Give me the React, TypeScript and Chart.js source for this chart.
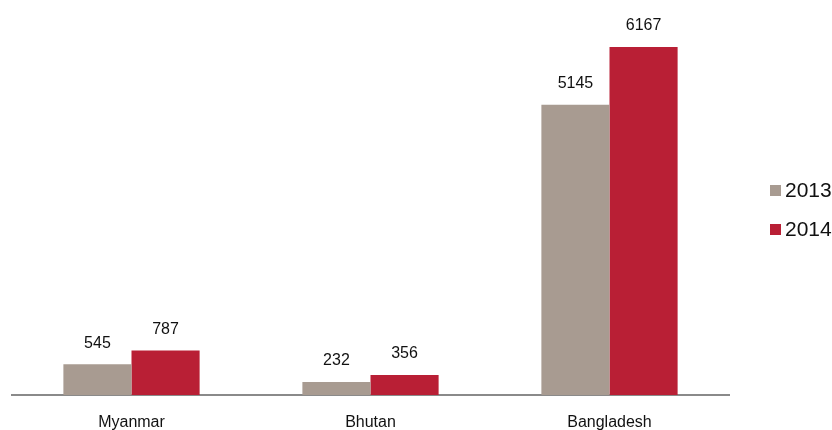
import React, { useEffect, useRef } from "react";
import { Chart, registerables } from "chart.js";

Chart.register(...registerables);

const categories = ["Myanmar", "Bhutan", "Bangladesh"];
const seriesNames = ["2013", "2014"];
const values2013 = [545, 232, 5145];
const values2014 = [787, 356, 6167];
const colors = ["#a89b91", "#b91f35"];

const FONT = "'Liberation Sans', Arial, Helvetica, sans-serif";

const valueLabels = {
  id: "valueLabels",
  afterDatasetsDraw(chart: any) {
    const ctx = chart.ctx;
    ctx.save();
    ctx.font = `16px ${FONT}`;
    ctx.fillStyle = "#111";
    ctx.textAlign = "center";
    ctx.textBaseline = "middle";
    chart.data.datasets.forEach((ds: any, i: number) => {
      const meta = chart.getDatasetMeta(i);
      meta.data.forEach((bar: any, j: number) => {
        ctx.fillText(String(ds.data[j]), bar.x, bar.y - 21);
      });
    });
    ctx.restore();
  },
};

const sideLegend = {
  id: "sideLegend",
  afterDraw(chart: any) {
    const ctx = chart.ctx;
    ctx.save();
    ctx.font = `21px ${FONT}`;
    ctx.textBaseline = "middle";
    ctx.textAlign = "left";
    chart.data.datasets.forEach((ds: any, i: number) => {
      const cy = 190 + i * 39;
      ctx.fillStyle = ds.backgroundColor;
      ctx.fillRect(770, cy - 5, 11, 11);
      ctx.fillStyle = "#111";
      ctx.fillText(ds.label, 785, cy + 1);
    });
    ctx.restore();
  },
};

export default function App() {
  const ref = useRef<HTMLCanvasElement | null>(null);
  useEffect(() => {
    if (!ref.current) return;
    const chart = new Chart(ref.current, {
      type: "bar",
      data: {
        labels: categories,
        datasets: [
          { label: seriesNames[0], data: values2013, backgroundColor: colors[0] },
          { label: seriesNames[1], data: values2014, backgroundColor: colors[1] },
        ],
      },
      options: {
        responsive: false,
        animation: false,
        layout: { padding: { left: 12, right: 103, top: 0, bottom: 0 } },
        plugins: { legend: { display: false }, tooltip: { enabled: false } },
        datasets: { bar: { categoryPercentage: 0.57, barPercentage: 1 } },
        scales: {
          x: {
            grid: { display: false, drawTicks: false },
            border: { display: true, color: "#8a8a8a", width: 2 },
            ticks: { color: "#111", font: { family: FONT, size: 16 }, padding: 18 },
            afterFit: (s: any) => {
              s.height = 35;
            },
          },
          y: { display: false, min: 0, max: 7000 },
        },
      },
      plugins: [valueLabels, sideLegend],
    });
    return () => chart.destroy();
  }, []);
  return (
    <div style={{ position: "fixed", left: 0, top: 0, width: 832, height: 430, background: "#fff" }}>
      <canvas ref={ref} width={832} height={430} style={{ display: "block" }} />
    </div>
  );
}
